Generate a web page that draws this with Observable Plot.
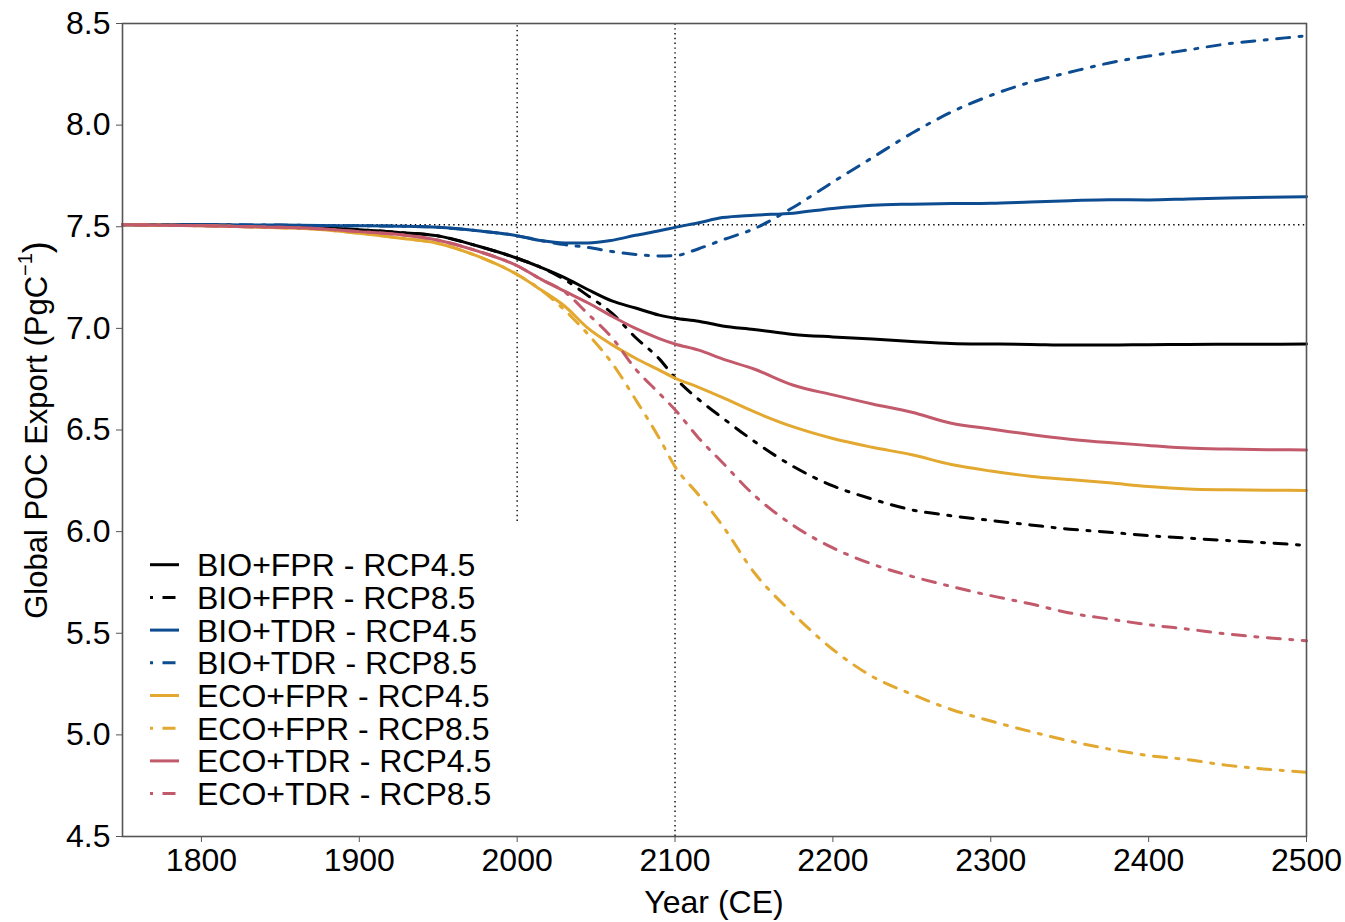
<!DOCTYPE html>
<html>
<head>
<meta charset="utf-8">
<script src="https://cdn.jsdelivr.net/npm/d3@7"></script>
<script src="https://cdn.jsdelivr.net/npm/@observablehq/plot@0.6"></script>
<style>
  body { margin: 0; background: #ffffff; }
  #chart svg { display: block; }
</style>
</head>
<body>
<div id="chart"></div>
<script>
// ---- data ----
const years = [1750, 1800, 1850, 1875, 1900, 1925, 1950, 1975, 2000, 2015, 2030, 2045, 2060, 2075, 2090, 2100,
               2115, 2130, 2150, 2175, 2200, 2225, 2250, 2275, 2300, 2325, 2350, 2375, 2400, 2425, 2450, 2475, 2500];

const bioFprRcp45 = [7.51, 7.51, 7.50, 7.495, 7.485, 7.472, 7.455, 7.405, 7.345, 7.30, 7.25, 7.19, 7.135, 7.10, 7.065, 7.05,
                     7.035, 7.012, 6.995, 6.97, 6.958, 6.948, 6.936, 6.926, 6.923, 6.921, 6.918, 6.918, 6.92, 6.921, 6.922, 6.922, 6.923];
const bioFprRcp85 = [7.51, 7.51, 7.50, 7.495, 7.485, 7.472, 7.455, 7.405, 7.345, 7.30, 7.24, 7.16, 7.075, 6.955, 6.85, 6.757,
                     6.65, 6.56, 6.445, 6.32, 6.225, 6.16, 6.107, 6.078, 6.055, 6.033, 6.012, 5.997, 5.98, 5.968, 5.956, 5.945, 5.932];
const bioTdrRcp45 = [7.51, 7.51, 7.508, 7.506, 7.505, 7.503, 7.497, 7.48, 7.456, 7.432, 7.42, 7.42, 7.433, 7.458, 7.48, 7.497,
                     7.52, 7.545, 7.557, 7.567, 7.59, 7.606, 7.611, 7.614, 7.616, 7.622, 7.628, 7.633, 7.632, 7.637, 7.642, 7.645, 7.648];
const bioTdrRcp85 = [7.51, 7.51, 7.508, 7.506, 7.505, 7.503, 7.497, 7.48, 7.456, 7.432, 7.412, 7.398, 7.378, 7.364, 7.356, 7.358,
                     7.392, 7.435, 7.49, 7.596, 7.72, 7.84, 7.96, 8.064, 8.146, 8.211, 8.26, 8.306, 8.34, 8.37, 8.40, 8.42, 8.44];
const ecoFprRcp45 = [7.51, 7.505, 7.495, 7.487, 7.468, 7.445, 7.418, 7.355, 7.265, 7.19, 7.11, 7.00, 6.92, 6.853, 6.795, 6.755,
                     6.71, 6.66, 6.59, 6.515, 6.458, 6.415, 6.378, 6.33, 6.298, 6.273, 6.256, 6.24, 6.222, 6.21, 6.206, 6.204, 6.202];
const ecoFprRcp85 = [7.51, 7.505, 7.495, 7.487, 7.468, 7.445, 7.418, 7.355, 7.265, 7.19, 7.09, 6.97, 6.83, 6.65, 6.46, 6.32,
                     6.18, 6.03, 5.80, 5.595, 5.42, 5.287, 5.20, 5.125, 5.068, 5.017, 4.97, 4.93, 4.898, 4.878, 4.85, 4.831, 4.816];
const ecoTdrRcp45 = [7.51, 7.505, 7.497, 7.49, 7.476, 7.462, 7.434, 7.38, 7.308, 7.242, 7.183, 7.125, 7.06, 7.0, 6.95, 6.923,
                     6.893, 6.85, 6.80, 6.72, 6.673, 6.628, 6.587, 6.533, 6.505, 6.478, 6.455, 6.438, 6.424, 6.411, 6.406, 6.403, 6.402];
const ecoTdrRcp85 = [7.51, 7.505, 7.497, 7.49, 7.476, 7.462, 7.434, 7.38, 7.308, 7.242, 7.18, 7.07, 6.955, 6.80, 6.68, 6.60,
                     6.46, 6.34, 6.18, 6.03, 5.92, 5.84, 5.78, 5.73, 5.685, 5.645, 5.60, 5.57, 5.542, 5.52, 5.496, 5.478, 5.463];

const seriesNames = ["BIO+FPR - RCP4.5", "BIO+FPR - RCP8.5", "BIO+TDR - RCP4.5", "BIO+TDR - RCP8.5",
                     "ECO+FPR - RCP4.5", "ECO+FPR - RCP8.5", "ECO+TDR - RCP4.5", "ECO+TDR - RCP8.5"];
const seriesValues = [bioFprRcp45, bioFprRcp85, bioTdrRcp45, bioTdrRcp85, ecoFprRcp45, ecoFprRcp85, ecoTdrRcp45, ecoTdrRcp85];
const seriesColors = ["#000000", "#000000", "#0d4c90", "#0d4c90", "#e3a82f", "#e3a82f", "#c25a6c", "#c25a6c"];
const seriesDashed = [false, true, false, true, false, true, false, true];

const xTicks = [1800, 1900, 2000, 2100, 2200, 2300, 2400, 2500];
const yTicks = [4.5, 5.0, 5.5, 6.0, 6.5, 7.0, 7.5, 8.0, 8.5];
const baselineValue = [7.51];
const refYears = [2000, 2100];
const refYearsLow = [6.05, 4.5];

// ---- styles ----
const font = "'Liberation Sans', Arial, sans-serif";
const dotDash = "3,9.5,13,9.5";
const frameGray = "#555555";

const rows = seriesNames.flatMap((name, i) =>
  years.map((year, j) => ({series: name, year, value: seriesValues[i][j]})));
const refRows = refYears.map((year, i) => ({year, low: refYearsLow[i]}));

const lineMarks = seriesNames.map((name, i) =>
  Plot.line(rows.filter(d => d.series === name), {
    x: "year", y: "value",
    stroke: seriesColors[i], strokeWidth: 3,
    strokeDasharray: seriesDashed[i] ? dotDash : null,
    curve: "monotone-x"
  }));

const plot = Plot.plot({
  width: 1345,
  height: 922,
  marginLeft: 122,
  marginRight: 39,
  marginTop: 23,
  marginBottom: 86,
  style: {fontFamily: font, fontSize: "32px", color: "#000", background: "#fff"},
  x: {domain: [1750, 2500]},
  y: {domain: [4.5, 8.5]},
  marks: [
    Plot.ruleY(baselineValue, {stroke: "#000", strokeWidth: 1.4, strokeDasharray: "1.4,3.4"}),
    Plot.ruleX(refRows, {x: "year", y1: "low", y2: 8.5, stroke: "#000", strokeWidth: 1.4, strokeDasharray: "1.4,3.4"}),
    ...lineMarks,
    Plot.frame({stroke: frameGray, strokeWidth: 1.6}),
    Plot.axisX({ticks: xTicks, tickSize: 6, tickPadding: 6, stroke: frameGray, tickFormat: d3.format("d"), label: null, fill: "#000"}),
    Plot.axisY({ticks: yTicks, tickSize: 6, tickPadding: 6, stroke: frameGray, tickFormat: d3.format(".1f"), label: null, fill: "#000"})
  ]
});

document.getElementById("chart").appendChild(plot);

// ---- axis titles & in-panel legend ----
const svg = d3.select(plot);

svg.append("text")
  .attr("x", 714).attr("y", 913)
  .attr("text-anchor", "middle")
  .style("font-family", font).style("font-size", "32px").attr("fill", "#000")
  .text("Year (CE)");

const yTitle = svg.append("text")
  .attr("transform", "translate(47,430) rotate(-90)")
  .attr("text-anchor", "middle")
  .style("font-family", font).style("font-size", "31px").attr("fill", "#000");
yTitle.append("tspan").text("Global POC Export (PgC");
yTitle.append("tspan").attr("dy", "-0.75em").style("font-size", "20px").text("\u22121");
yTitle.append("tspan").attr("dy", "0.47em").style("font-size", "36px").text(")");

const legend = svg.append("g").attr("text-anchor", "start");
seriesNames.forEach((name, i) => {
  const y = 564.7 + i * 32.7;
  legend.append("line")
    .attr("x1", 150).attr("x2", 179).attr("y1", y).attr("y2", y)
    .attr("stroke", seriesColors[i]).attr("stroke-width", 3)
    .attr("stroke-dasharray", seriesDashed[i] ? "3,9.5,13,9.5" : null);
  legend.append("text")
    .attr("x", 197).attr("y", y).attr("dy", "0.36em")
    .attr("text-anchor", "start")
    .style("font-family", font).style("font-size", "32px").attr("fill", "#000")
    .text(name);
});
</script>
</body>
</html>
